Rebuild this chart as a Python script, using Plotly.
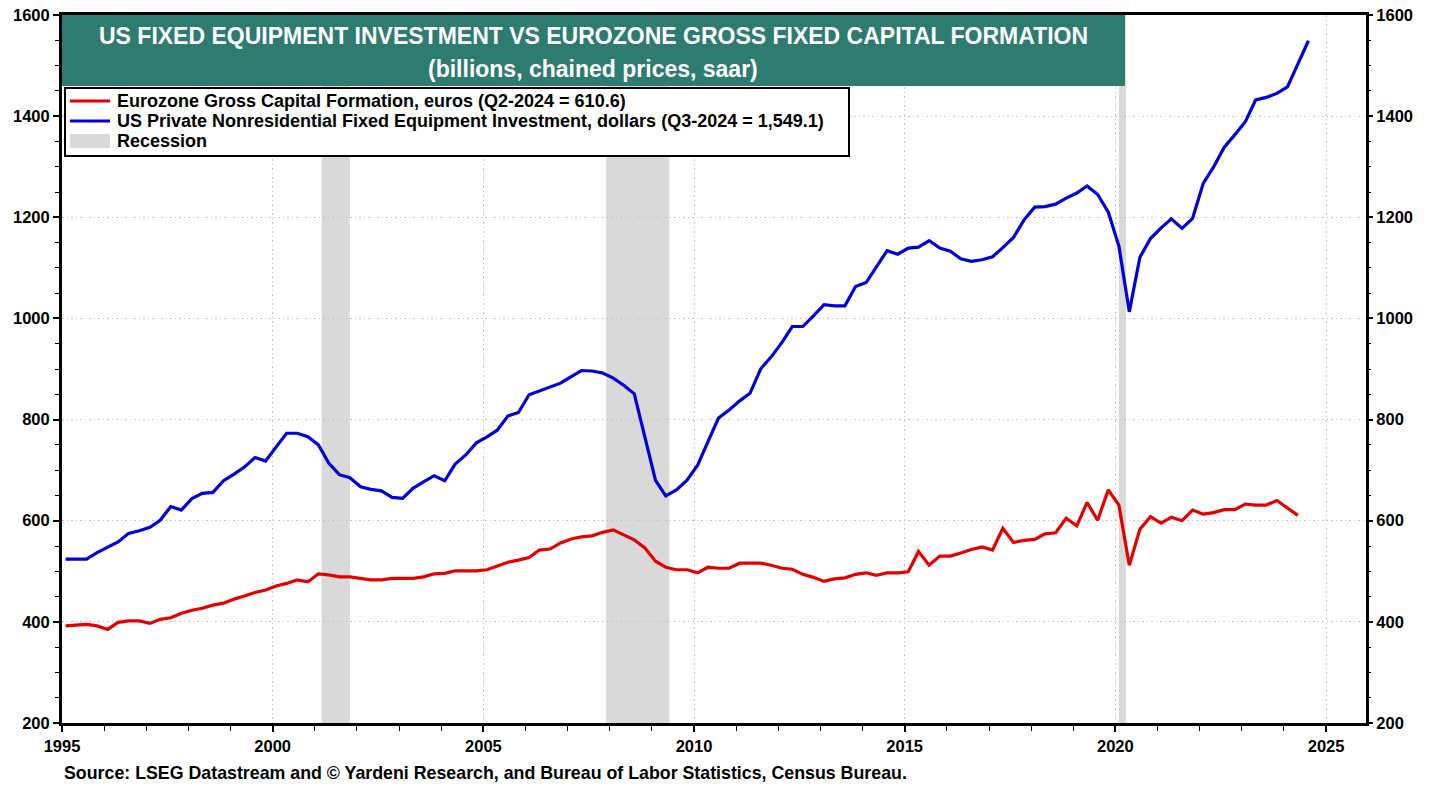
import pandas as pd
import plotly.graph_objects as go

# ---------------- data ----------------
us_start_quarter = "1995Q1"
us_equipment = [
    524, 524, 524, 537, 548, 558, 575, 580, 587, 601, 628, 621,
    644, 654, 656, 679, 692, 706, 725, 718, 746, 773, 773, 766,
    750, 714, 691, 685, 667, 662, 659, 646, 644, 664, 677, 689,
    679, 712, 730, 754, 766, 779, 807, 814, 849, 856, 864, 872,
    885, 897, 896, 892, 882, 868, 851, 766, 680, 649, 661, 680,
    710, 756, 803, 819, 837, 852, 900, 924, 952, 984, 984, 1005,
    1027, 1025, 1025, 1063, 1071, 1102, 1134, 1127, 1139, 1141, 1154, 1139,
    1133, 1118, 1113, 1116, 1122, 1140, 1160, 1195, 1220, 1221, 1226, 1238,
    1248, 1262, 1245, 1210, 1143, 1013, 1121, 1158, 1179, 1197, 1178, 1198,
    1267, 1299, 1338, 1363, 1389, 1432, 1437, 1445, 1458, 1503, 1549.1,
]

eu_start_quarter = "1995Q1"
eurozone_gfcf = [
    392, 393, 395, 392, 385, 399, 402, 402, 397, 405, 408, 417,
    423, 427, 433, 437, 445, 451, 458, 463, 471, 476, 483, 479,
    495, 493, 489, 489, 486, 483, 483, 486, 486, 486, 489, 495,
    496, 501, 501, 501, 503, 511, 518, 522, 527, 542, 544, 556,
    564, 568, 570, 577, 582, 572, 562, 546, 520, 508, 503, 503,
    497, 508, 506, 506, 516, 516, 516, 512, 506, 504, 494, 488,
    480, 485, 487, 494, 497, 492, 497, 497, 499, 539, 512, 530,
    530, 536, 543, 548, 542, 585, 557, 561, 563, 574, 576, 605,
    590, 636, 601, 661, 631, 512, 583, 608, 595, 607, 600, 621,
    613, 616, 622, 622, 633, 631, 631, 640, 625, 610.6,
]

recession_starts = ["2001-03-01", "2007-12-01", "2020-02-01"]
recession_ends = ["2001-11-01", "2009-06-01", "2020-04-01"]

y_tick_values = [200, 400, 600, 800, 1000, 1200, 1400, 1600]
x_tick_years = [1995, 2000, 2005, 2010, 2015, 2020, 2025]

title_line1 = "US FIXED EQUIPMENT INVESTMENT VS EUROZONE GROSS FIXED CAPITAL FORMATION"
title_line2 = "(billions, chained prices, saar)"
legend_red = "Eurozone Gross Capital Formation, euros (Q2-2024 = 610.6)"
legend_blue = "US Private Nonresidential Fixed Equipment Investment, dollars (Q3-2024 = 1,549.1)"
legend_rec = "Recession"
source_text = "Source: LSEG Datastream and \u00a9 Yardeni Research, and Bureau of Labor Statistics, Census Bureau."

# ---------------- styling ----------------
RED = "#E50000"
BLUE = "#0000DC"
TEAL = "#2E7B6F"
GREY = "#D9D9D9"
FONT = "Liberation Sans, Arial, sans-serif"

W, H = 1438, 787
L, R, T, B = 62, 1366, 15, 723   # plot area in pixels


def px_x(p):
    return (p - L) / (R - L)


def px_y(p):
    return (B - p) / (B - T)


def quarter_dates(start, n):
    per = pd.period_range(start, periods=n, freq="Q")
    return per.to_timestamp(how="start") + pd.DateOffset(months=1)


dates_us = quarter_dates(us_start_quarter, len(us_equipment))
dates_eu = quarter_dates(eu_start_quarter, len(eurozone_gfcf))

fig = go.Figure()
fig.add_trace(go.Scatter(x=dates_eu, y=eurozone_gfcf, mode="lines",
                         line=dict(color=RED, width=3.2), name=legend_red,
                         yaxis="y2", hoverinfo="x+y"))
fig.add_trace(go.Scatter(x=dates_us, y=us_equipment, mode="lines",
                         line=dict(color=BLUE, width=3.2), name=legend_blue,
                         hoverinfo="x+y"))

shapes = []
for s, e in zip(recession_starts, recession_ends):
    shapes.append(dict(type="rect", xref="x", yref="paper", x0=s, x1=e, y0=0, y1=1,
                       fillcolor=GREY, line=dict(width=0), layer="below"))

# title box
shapes.append(dict(type="rect", xref="paper", yref="paper",
                   x0=0, x1=px_x(1125), y0=px_y(86), y1=1,
                   fillcolor=TEAL, line=dict(width=0), layer="above"))
# legend box
shapes.append(dict(type="rect", xref="paper", yref="paper",
                   x0=px_x(65), x1=px_x(849), y0=px_y(156), y1=px_y(88),
                   fillcolor="white", line=dict(color="black", width=2), layer="above"))
shapes.append(dict(type="line", xref="paper", yref="paper",
                   x0=px_x(70), x1=px_x(110), y0=px_y(101), y1=px_y(101),
                   line=dict(color=RED, width=3), layer="above"))
shapes.append(dict(type="line", xref="paper", yref="paper",
                   x0=px_x(70), x1=px_x(110), y0=px_y(121), y1=px_y(121),
                   line=dict(color=BLUE, width=3), layer="above"))
shapes.append(dict(type="rect", xref="paper", yref="paper",
                   x0=px_x(70), x1=px_x(110), y0=px_y(148), y1=px_y(134),
                   fillcolor=GREY, line=dict(width=0), layer="above"))

annotations = [
    dict(text=f"<b>{title_line1}</b>", xref="paper", yref="paper",
         x=px_x(593), y=px_y(36), xanchor="center", yanchor="middle",
         showarrow=False, font=dict(family=FONT, size=23, color="white")),
    dict(text=f"<b>{title_line2}</b>", xref="paper", yref="paper",
         x=px_x(593), y=px_y(69), xanchor="center", yanchor="middle",
         showarrow=False, font=dict(family=FONT, size=23, color="white")),
]
for txt, ypx in [(legend_red, 101), (legend_blue, 121), (legend_rec, 141)]:
    annotations.append(dict(text=f"<b>{txt}</b>", xref="paper", yref="paper",
                            x=px_x(115), y=px_y(ypx), xanchor="left", yanchor="middle",
                            showarrow=False, font=dict(family=FONT, size=18, color="black")))
annotations.append(dict(text=f"<b>{source_text}</b>", xref="paper", yref="paper",
                        x=0, y=px_y(773), xanchor="left", yanchor="middle",
                        showarrow=False, font=dict(family=FONT, size=17.8, color="black")))

tickfont = dict(family=FONT, size=16.5, color="black", weight="bold")
grid = dict(showgrid=True, gridcolor="#C4C4C4", gridwidth=1.2, griddash="1.5px,3px")

fig.update_layout(
    width=W, height=H,
    margin=dict(l=L, r=W - R, t=T, b=H - B, autoexpand=False),
    plot_bgcolor="white", paper_bgcolor="white",
    showlegend=False,
    shapes=shapes, annotations=annotations,
    xaxis=dict(
        type="date", range=["1995-01-01", "2025-12-13"], automargin=False,
        tickvals=[f"{y}-01-01" for y in x_tick_years],
        ticktext=[str(y) for y in x_tick_years],
        ticks="outside", ticklen=6, tickwidth=1.5, tickcolor="black",
        minor=dict(tickvals=[f"{y}-01-01" for y in range(1995, 2026)],
                   ticks="outside", ticklen=5, tickwidth=1.2, tickcolor="black", showgrid=False),
        showline=True, linewidth=3, linecolor="black", mirror=True,
        tickfont=tickfont, zeroline=False, **grid,
    ),
    yaxis=dict(
        range=[200, 1600], tickvals=y_tick_values, automargin=False,
        ticks="outside", ticklen=6, tickwidth=1.5, tickcolor="black",
        minor=dict(dtick=50, tick0=200, ticks="outside", ticklen=4, tickwidth=1.2,
                   tickcolor="black", showgrid=False),
        showline=True, linewidth=3, linecolor="black", mirror=True,
        tickfont=tickfont, zeroline=False, **grid,
    ),
    yaxis2=dict(
        range=[200, 1600], tickvals=y_tick_values, overlaying="y", side="right",
        automargin=False,
        ticks="outside", ticklen=6, tickwidth=1.5, tickcolor="black",
        minor=dict(dtick=50, tick0=200, ticks="outside", ticklen=4, tickwidth=1.2,
                   tickcolor="black", showgrid=False),
        showline=False, showgrid=False, zeroline=False, tickfont=tickfont,
    ),
)

fig.write_html("out.html", config={"displayModeBar": False},
               post_script="document.body.style.margin='0';document.body.style.overflow='hidden';")
